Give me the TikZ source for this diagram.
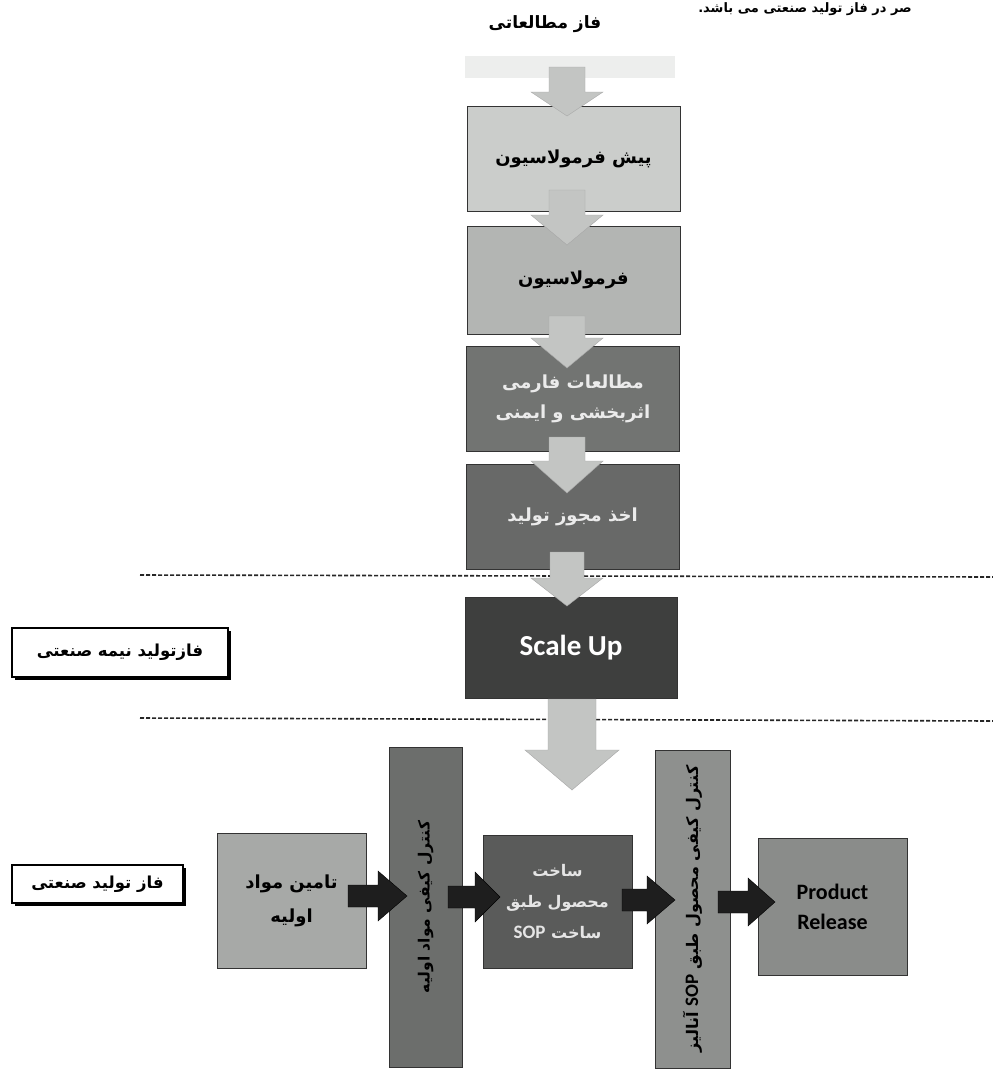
\documentclass[tikz,border=0pt]{standalone}
\usepackage{fontspec}
\setmainfont{Carlito}
\newfontfamily\fa[Script=Arabic]{DejaVu Sans}
\newfontfamily\lat{Carlito}
\TeXXeTstate=1
\definecolor{cA}{HTML}{CBCDCB}
\definecolor{cB}{HTML}{B3B5B3}
\definecolor{cC}{HTML}{727472}
\definecolor{cD}{HTML}{686968}
\definecolor{cE}{HTML}{3E3F3E}
\definecolor{cF}{HTML}{A7A9A7}
\definecolor{cG}{HTML}{6C6E6C}
\definecolor{cH}{HTML}{5A5B5A}
\definecolor{cI}{HTML}{8E908E}
\definecolor{cJ}{HTML}{8A8C8A}
\definecolor{cArr}{HTML}{C3C5C3}
\definecolor{cDark}{HTML}{1E1E1E}
\definecolor{cBand}{HTML}{EDEEED}
\newcommand\fabf{\fa\bfseries}
\newcommand\downarr[7]{% x, ytop, ybase, ytip, halfshaft, halfhead, style
  \path[#7] ({#1-#5},#2) -- ({#1+#5},#2) -- ({#1+#5},#3) -- ({#1+#6},#3) -- (#1,#4) -- ({#1-#6},#3) -- ({#1-#5},#3) -- cycle;}
\newcommand\rightarr[7]{% y, xleft, xbase, xtip, halfshaft, halfhead, style
  \path[#7] (#2,{#1-#5}) -- (#3,{#1-#5}) -- (#3,{#1-#6}) -- (#4,#1) -- (#3,{#1+#6}) -- (#3,{#1+#5}) -- (#2,{#1+#5}) -- cycle;}
\begin{document}
\begin{tikzpicture}[x=1pt,y=-1pt,
  box/.style={draw=black!80,line width=1pt,inner sep=2pt,align=center},
  farsi/.style={font=\fabf\fontsize{18}{30}\selectfont},
  lightarrow/.style={fill=cArr,draw=gray!70,line width=0.4pt},
  darkarrow/.style={fill=cDark,draw=black,line width=0.4pt},
  dashline/.style={draw=black!85,line width=1.6pt,dash pattern=on 4pt off 2pt},
  labelbox/.style={draw=black,line width=1.6pt,fill=white,inner sep=3pt,font=\fabf\fontsize{16.5}{20}\selectfont}]
\useasboundingbox (0,0) rectangle (993,1079);
\fill[white] (0,0) rectangle (993,1079);

% top (partly cut) text and title
\node[font=\fabf\fontsize{13}{16}\selectfont] (cut) at (805,9) {\beginR صر در فاز تولید صنعتی می باشد.\endR};
\node[font=\fabf\fontsize{17}{20}\selectfont] (title) at (545,24) {\beginR فاز مطالعاتی\endR};
\fill[cBand] (465,56) rectangle (675,78);

% study phase boxes
\node[box,farsi,fill=cA,minimum width=213pt,minimum height=105pt] (b1) at (573.5,158.5) {\beginR پیش فرمولاسیون\endR};
\node[box,farsi,fill=cB,minimum width=213pt,minimum height=108pt] (b2) at (573.5,280) {\beginR فرمولاسیون\endR};
\node[box,farsi,fill=cC,text=white!92!black,minimum width=213pt,minimum height=105pt] (b3) at (573,398.5) {\beginR مطالعات فارمی\endR\\\beginR اثربخشی و ایمنی\endR};
\node[box,farsi,fill=cD,text=white!92!black,minimum width=213pt,minimum height=105pt] (b4) at (572.5,516.5) {\beginR اخذ مجوز تولید\endR};

% dashed phase separators
\coordinate (d1a) at (140,575); \coordinate (d1b) at (993,577);
\coordinate (d2a) at (140,718); \coordinate (d2b) at (993,721);
\draw[dashline] (d1a) -- (d1b);
\draw[dashline] (d2a) -- (d2b);

% scale up
\node[box,fill=cE,text=white,font=\lat\bfseries\fontsize{29}{34}\selectfont,minimum width=212pt,minimum height=101pt] (su) at (571,647.5) {Scale Up};

% phase labels
\fill[black] (15,631) rectangle (231,680);
\node[labelbox,minimum width=216pt,minimum height=49pt] (l1) at (120,652.5) {\beginR فازتولید  نیمه صنعتی\endR};
\fill[black] (15,868) rectangle (186,906);
\node[labelbox,minimum width=171pt,minimum height=38pt] (l2) at (97.5,884) {\beginR فاز تولید صنعتی\endR};

% industrial phase
\node[box,fill=cF,minimum width=149pt,minimum height=135pt,font=\fabf\fontsize{18}{34}\selectfont] (tm) at (291.5,900.5) {\beginR تامین مواد\endR\\\beginR اولیه\endR};
\node[box,fill=cG,minimum width=73pt,minimum height=320pt] (q1) at (425.5,907) {};
\node[rotate=90,font=\fabf\fontsize{15.5}{18}\selectfont] (q1t) at (q1.center) {\beginR کنترل کیفی مواد اولیه\endR};
\node[box,fill=cH,text=white!90!black,minimum width=149pt,minimum height=133pt,font=\fabf\fontsize{16}{31}\selectfont] (mk) at (557.5,901.5) {\beginR ساخت\endR\\\beginR محصول طبق\endR\\\beginR ساخت \beginL{\lat\bfseries\fontsize{19}{20}\selectfont SOP}\endL\endR};
\node[box,fill=cI,minimum width=75pt,minimum height=318pt] (q2) at (692.5,909) {};
\node[rotate=90,font=\fabf\fontsize{16}{18}\selectfont] (q2t) at (q2.center) {\beginR کنترل کیفی محصول طبق \beginL{\lat\bfseries\fontsize{19}{20}\selectfont SOP}\endL{} آنالیز\endR};
\node[box,fill=cJ,font=\lat\bfseries\fontsize{22}{30}\selectfont,minimum width=149pt,minimum height=137pt] (pr) at (832.5,906.5) {Product\\Release};

% light vertical block arrows
\downarr{567}{67}{92}{116}{18}{36}{lightarrow}
\downarr{567}{190}{215}{245}{18}{36}{lightarrow}
\downarr{567}{316}{338}{368}{18}{36}{lightarrow}
\downarr{567}{437}{461}{493}{18}{36}{lightarrow}
\downarr{567}{552}{578}{606}{17}{36}{lightarrow}
\downarr{572}{699}{750}{790}{24}{47}{lightarrow}

% dark horizontal block arrows
\rightarr{896}{348}{378}{407}{11}{25}{darkarrow}
\rightarr{897}{448}{475}{500}{11}{25}{darkarrow}
\rightarr{900}{622}{647}{675}{11}{24}{darkarrow}
\rightarr{902}{718}{748}{775}{11}{24}{darkarrow}
\end{tikzpicture}
\end{document}
